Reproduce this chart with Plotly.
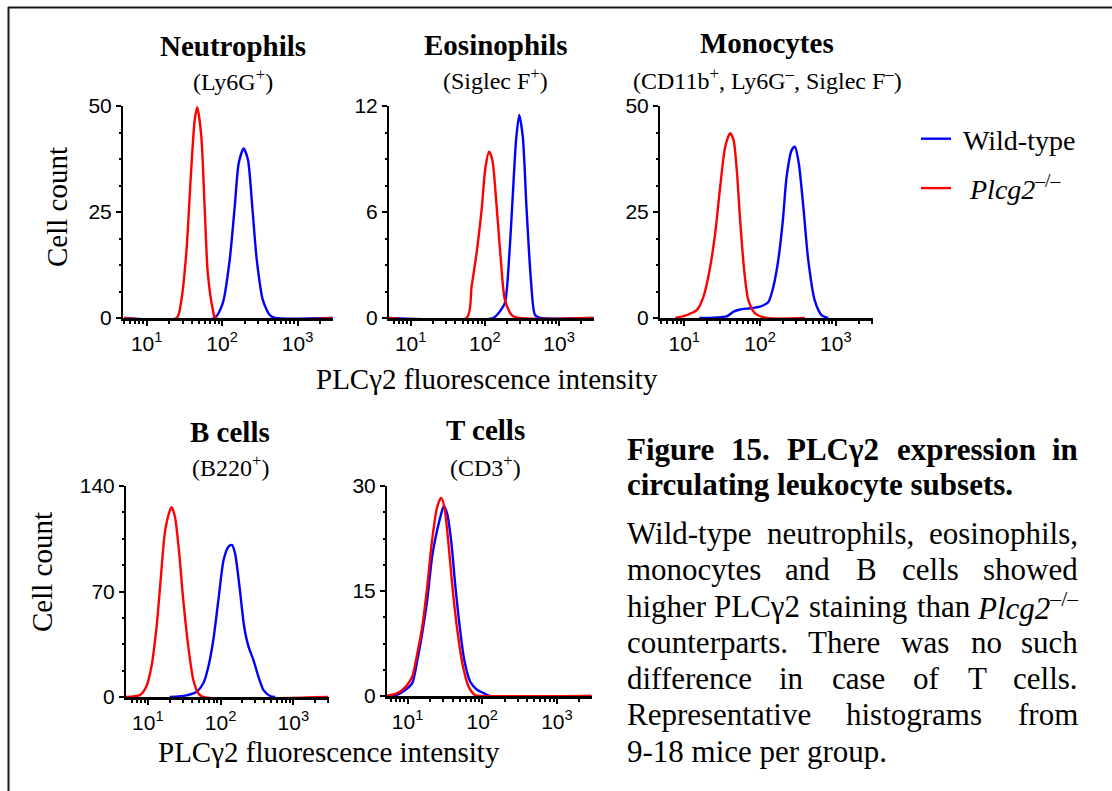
import plotly.graph_objects as go

W, H = 1112, 791

# ------------------------------------------------------------------ data
# x = PLCγ2 fluorescence intensity, y = cell count
neut_wt_x = [5, 79, 102, 126, 147, 166, 193, 220, 251, 288, 347, 427, 501, 2900]
neut_wt_y = [0, 0, 3.5, 13.7, 26.3, 36.5, 40.0, 37.3, 26.3, 13.7, 4.2, 0.7, 0, 0]
neut_ko_x = [5, 24.9, 28.8, 33.5, 38.9, 43.3, 46.9, 53.0, 58.6, 64.6, 75.5, 81.3, 2900]
neut_ko_y = [0, 0, 4.2, 15.3, 34.9, 46.7, 49.7, 42.8, 26.3, 10.6, 1.9, 0, 0]

eos_wt_x = [5, 129, 158, 186, 214, 237, 263, 290, 324, 363, 417, 474, 562, 2900]
eos_wt_y = [0, 0, 0.36, 0.85, 3.67, 6.87, 10.07, 11.5, 10.26, 6.3, 2.15, 0.17, 0, 0]
eos_ko_x = [5, 56.6, 66.1, 77.3, 90.2, 102, 114, 126, 144, 164, 186, 229, 282, 2900]
eos_ko_y = [0, 0, 1.77, 3.67, 6.1, 8.56, 9.41, 8.94, 6.3, 3.28, 1.02, 0.17, 0, 0]

mono_wt_x = [15.8, 36.3, 44.7, 54.6, 73.8, 100, 129, 150, 174, 200, 224, 261, 288,
             324, 372, 432, 525, 646, 794]
mono_wt_y = [0, 0.4, 1.5, 2.0, 2.3, 2.7, 3.8, 7.4, 13.7, 23.1, 33.3, 39.6, 40.4,
             36.5, 26.3, 13.7, 4.2, 0.7, 0]
mono_ko_x = [7.6, 10.8, 14.7, 17.9, 22.0, 25.6, 29.8, 34.7, 40.3, 44.7, 49.3, 54.6,
             61.7, 70.1, 85.9, 123, 390]
mono_ko_y = [0, 0.7, 1.9, 5.0, 12.1, 20, 31, 40.4, 43.6, 42, 34.9, 23.1,
             11.3, 4.2, 1.1, 0, 0]

bcell_wt_x = [20, 33.9, 46.8, 57.9, 67.9, 79.4, 93.3, 110, 128, 143, 158, 182, 211,
              242, 283, 331, 389, 479, 562]
bcell_wt_y = [0, 1.1, 3.5, 9.1, 20.1, 37.8, 64.4, 90.9, 99.7, 100.9, 95.3, 73.2, 46.6,
              33.4, 24.5, 13.5, 4.6, 0.7, 0]
bcell_ko_x = [5, 7.8, 9.5, 11.2, 13.2, 15.0, 17.1, 19.5, 21.2, 23.6, 27.0, 30.7,
              36.0, 42.2, 49.4, 57.5, 3000]
bcell_ko_y = [0, 1.3, 6.8, 20.1, 46.6, 77.6, 108.6, 121.9, 125.9, 119.6, 95.3, 64.4,
              33.4, 11.3, 2.5, 0, 0]

tcell_wt_x = [5.2, 7.3, 9.4, 11.5, 13.5, 15.7, 18.3, 21.3, 24.9, 27.5, 30.5, 33.8,
              38.2, 43.7, 49.9, 57.5, 69.2, 85.1, 105, 126, 2900]
tcell_wt_y = [0, 0.2, 0.9, 1.8, 5.1, 9.0, 13.7, 19.9, 23.7, 25.6, 27.1, 26.1,
              22.3, 15.6, 9.9, 5.1, 2.0, 0.9, 0.4, 0, 0]
tcell_ko_x = [5.2, 7.3, 9.4, 11.5, 13.5, 15.7, 18.3, 21.3, 24.9, 28.1, 31.1, 35.6,
              40.6, 46.9, 55.2, 65.8, 80.7, 100, 2900]
tcell_ko_y = [0, 0.4, 1.3, 2.76, 6.1, 9.9, 15.6, 22.3, 27.0, 28.3, 27.0, 21.3,
              14.7, 9.0, 4.2, 1.3, 0.1, 0, 0]

panel_titles = ["Neutrophils", "Eosinophils", "Monocytes", "B cells", "T cells"]
panel_subtitles = ["(Ly6G<sup>+</sup>)", "(Siglec F<sup>+</sup>)",
                   "(CD11b<sup>+</sup>, Ly6G<sup>–</sup>, Siglec F<sup>–</sup>)",
                   "(B220<sup>+</sup>)", "(CD3<sup>+</sup>)"]
y_maxes = [50, 12, 50, 140, 30]
x_tick_vals = [10, 100, 1000]
x_tick_text = ["10<sup>1</sup>", "10<sup>2</sup>", "10<sup>3</sup>"]
x_minor_vals = [5, 6, 7, 8, 9, 20, 30, 40, 50, 60, 70, 80, 90,
                200, 300, 400, 500, 600, 700, 800, 900, 2000, 3000]
series_names = ["Wild-type", "<i>Plcg2</i><sup>–/–</sup>"]
y_label = "Cell count"
x_label = "PLCγ2 fluorescence intensity"

caption_title = [["Figure", "15.", "PLCγ2", "expression", "in"],
                 ["circulating leukocyte subsets."]]
caption_body = [["Wild-type", "neutrophils,", "eosinophils,"],
                ["monocytes", "and", "B", "cells", "showed"],
                ["higher", "PLCγ2", "staining", "than", "<i>Plcg2</i><sup>–/–</sup>"],
                ["counterparts.", "There", "was", "no", "such"],
                ["difference", "in", "case", "of", "T", "cells."],
                ["Representative", "histograms", "from"],
                ["9-18 mice per group."]]

# ------------------------------------------------------------------ layout helpers
def px(x):
    return x / W


def py(y):
    return 1 - y / H


BLUE = "#0000ff"
RED = "#ff0000"
SERIF = "Liberation Serif"
SANS = "Liberation Sans"

# pixel geometry per panel: x-domain, y-domain(top, bottom), log x-range
geom = [
    dict(xd=(123, 333), yd=(106, 318), xr=(0.686, 3.47), tcx=233, ty=46, sty=80),
    dict(xd=(389, 594), yd=(106, 318), xr=(0.708, 3.47), tcx=495, ty=45, sty=79),
    dict(xd=(660, 873), yd=(106, 318), xr=(0.680, 3.49), tcx=767, ty=43, sty=79),
    dict(xd=(126, 329), yd=(486, 697), xr=(0.700, 3.49), tcx=230, ty=432, sty=466),
    dict(xd=(387, 592), yd=(486, 696), xr=(0.724, 3.47), tcx=485, ty=430, sty=466),
]

data = [
    (neut_wt_x, neut_wt_y, neut_ko_x, neut_ko_y),
    (eos_wt_x, eos_wt_y, eos_ko_x, eos_ko_y),
    (mono_wt_x, mono_wt_y, mono_ko_x, mono_ko_y),
    (bcell_wt_x, bcell_wt_y, bcell_ko_x, bcell_ko_y),
    (tcell_wt_x, tcell_wt_y, tcell_ko_x, tcell_ko_y),
]

fig = go.Figure()
layout = dict(
    width=W, height=H, margin=dict(l=0, r=0, t=0, b=0, pad=0, autoexpand=False),
    paper_bgcolor="white", plot_bgcolor="rgba(0,0,0,0)",
    showlegend=True,
    legend=dict(x=px(916), y=py(114), xanchor="left", yanchor="top",
                font=dict(family=SERIF, size=28, color="black"),
                bgcolor="rgba(0,0,0,0)", borderwidth=0, itemwidth=30),
    annotations=[], shapes=[],
)

for i, (g, (wx, wy, kx, ky)) in enumerate(zip(geom, data)):
    n = "" if i == 0 else str(i + 1)
    xa, ya = "x" + n, "y" + n
    fig.add_trace(go.Scatter(x=wx, y=wy, mode="lines", xaxis=xa, yaxis=ya,
                             line=dict(color=BLUE, width=2.4, shape="spline", smoothing=0.7),
                             name="&nbsp;" + series_names[0], showlegend=(i == 0),
                             legendgroup="wt"))
    fig.add_trace(go.Scatter(x=kx, y=ky, mode="lines", xaxis=xa, yaxis=ya,
                             line=dict(color=RED, width=2.4, shape="spline", smoothing=0.7),
                             name="&nbsp;&nbsp;" + series_names[1], showlegend=(i == 0),
                             legendgroup="ko"))
    ymax = y_maxes[i]
    layout["xaxis" + n] = dict(
        type="log", range=list(g["xr"]), domain=[px(g["xd"][0]), px(g["xd"][1])],
        anchor=ya, showline=True, linecolor="black", linewidth=3,
        showgrid=False, zeroline=False, automargin=False,
        ticks="outside", ticklen=5, tickwidth=2, tickcolor="black",
        tickmode="array", tickvals=x_tick_vals, ticktext=x_tick_text,
        tickfont=dict(family=SANS, size=21, color="black"),
        minor=dict(ticks="outside", ticklen=3, tickwidth=1.5, tickcolor="black",
                   tickmode="array", tickvals=x_minor_vals, showgrid=False),
        fixedrange=True,
    )
    layout["yaxis" + n] = dict(
        range=[0, ymax], domain=[py(g["yd"][1]), py(g["yd"][0])],
        anchor=xa, showline=True, linecolor="black", linewidth=2,
        showgrid=False, zeroline=False, automargin=False,
        ticks="outside", ticklen=5, tickwidth=2, tickcolor="black",
        tickmode="array", tickvals=[0, ymax / 2, ymax],
        ticktext=[str(v) for v in [0, int(ymax / 2), ymax]],
        tickfont=dict(family=SANS, size=21, color="black"),
        minor=dict(ticks="outside", ticklen=2, tickwidth=1.5, tickcolor="black",
                   dtick=ymax / 8, tick0=0, showgrid=False),
        fixedrange=True,
    )
    layout["annotations"].append(dict(
        text="<b>" + panel_titles[i] + "</b>", x=px(g["tcx"]), y=py(g["ty"]),
        xref="paper", yref="paper", xanchor="center", yanchor="middle",
        showarrow=False, font=dict(family=SERIF, size=29, color="black")))
    layout["annotations"].append(dict(
        text=panel_subtitles[i], x=px(g["tcx"]), y=py(g["sty"]),
        xref="paper", yref="paper", xanchor="center", yanchor="middle",
        showarrow=False, font=dict(family=SERIF, size=24, color="black")))

# axis titles
for (cx, cy) in [(57, 207), (42, 572)]:
    layout["annotations"].append(dict(
        text=y_label, x=px(cx), y=py(cy), xref="paper", yref="paper",
        xanchor="center", yanchor="middle", textangle=-90, showarrow=False,
        font=dict(family=SERIF, size=29, color="black")))
for (cx, cy) in [(487, 379), (329, 752)]:
    layout["annotations"].append(dict(
        text=x_label, x=px(cx), y=py(cy), xref="paper", yref="paper",
        xanchor="center", yanchor="middle", showarrow=False,
        font=dict(family=SERIF, size=29, color="black")))

# ------------------------------------------------------------------ caption (justified text)
REG = dict(a=444, b=500, c=444, d=500, e=444, f=333, g=500, h=500, i=278, j=278, k=500,
           l=278, m=778, n=500, o=500, p=500, q=500, r=333, s=389, t=278, u=500, v=500,
           w=722, x=500, y=500, z=444, B=667, C=667, L=611, P=556, R=667, T=611, W=944)
REG.update({",": 250, ".": 250, "-": 333, "γ": 440, " ": 250})
BOLD = dict(a=500, b=556, c=444, d=556, e=444, f=333, g=500, h=556, i=278, k=556, l=278,
            m=833, n=556, o=500, p=556, r=444, s=389, t=333, u=556, x=500, y=500,
            F=611, P=611, L=667, C=722)
BOLD.update({".": 250, "γ": 460, " ": 250})
CAP_SIZE = 31
X0, X1 = 625, 1080


def word_width(word, table):
    if "Plcg2" in word:
        return (611 + 278 + 444 + 500 + 500 + 0.7 * (500 + 278 + 500)) / 1000 * CAP_SIZE
    return sum(table.get(ch, 500) for ch in word) / 1000 * CAP_SIZE


def add_word(text, x, anchor, base, bold):
    layout["annotations"].append(dict(
        text=("<b>" + text + "</b>") if bold else text,
        x=px(x), y=py(base - 0.34 * CAP_SIZE), xref="paper", yref="paper",
        xanchor=anchor, yanchor="middle", showarrow=False,
        font=dict(family=SERIF, size=CAP_SIZE, color="black")))


def place_line(words, base, bold):
    table = BOLD if bold else REG
    if len(words) == 1:
        add_word(words[0], X0, "left", base, bold)
        return
    widths = [word_width(w, table) for w in words]
    gap = (X1 - X0 - sum(widths)) / (len(words) - 1)
    x = X0
    for k, (w, wd) in enumerate(zip(words, widths)):
        if k == 0:
            add_word(w, X0, "left", base, bold)
        elif k == len(words) - 1:
            add_word(w, X1, "right", base, bold)
        else:
            add_word(w, x + wd / 2, "center", base, bold)
        x += wd + gap


for line, base in zip(caption_title, [460.5, 495.5]):
    place_line(line, base, True)
for k, line in enumerate(caption_body):
    place_line(line, 544 + k * 36.3, False)

# ------------------------------------------------------------------ frame
layout["shapes"] += [
    dict(type="line", xref="paper", yref="paper", x0=px(8), x1=1, y0=py(7.5), y1=py(7.5),
         line=dict(color="#1a1a1a", width=2)),
    dict(type="line", xref="paper", yref="paper", x0=px(8.5), x1=px(8.5), y0=py(7), y1=0,
         line=dict(color="#1a1a1a", width=2)),
]

fig.update_layout(**layout)

# place the figure at the top-left corner of the page (no default body margin)
page_fix = ("document.documentElement.style.margin='0';"
            "document.body.style.margin='0';"
            "document.body.style.overflow='hidden';"
            "var gd=document.getElementById('{plot_id}');"
            "gd.style.position='absolute';gd.style.left='0px';gd.style.top='0px';")
fig.write_html("out.html", post_script=page_fix, config={"displayModeBar": False})
